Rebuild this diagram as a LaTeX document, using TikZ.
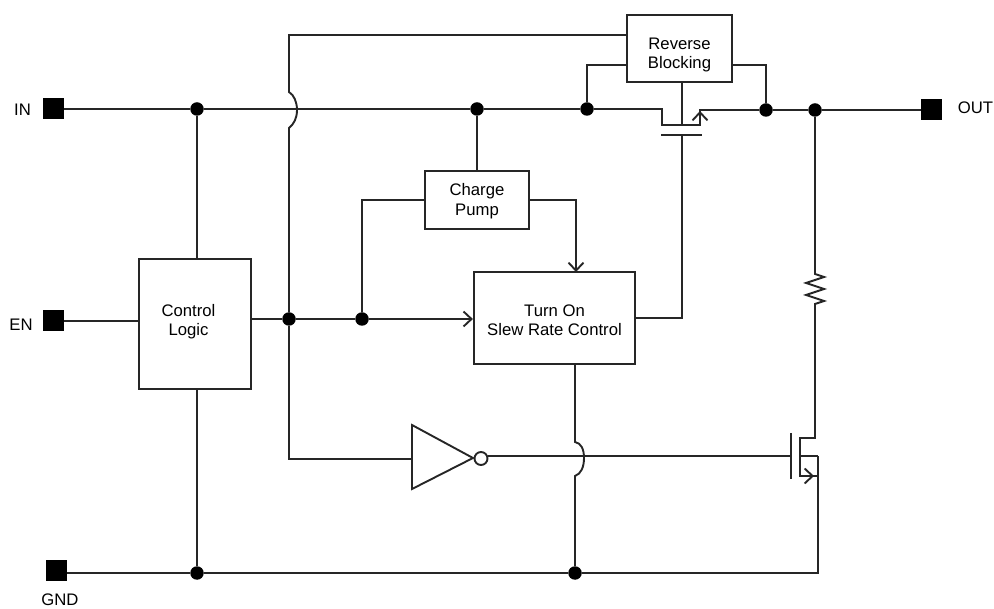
\documentclass[tikz,border=0pt]{standalone}
\usepackage{fontspec}
\setmainfont{Liberation Sans}
\usetikzlibrary{arrows.meta}
\newcommand{\twolines}[3]{\raisebox{#1}[0pt][0pt]{\begin{tabular}{@{}c@{}}#2\\#3\end{tabular}}}
\tikzset{
  x=1pt,y=-1pt,
  wire/.style={line width=1.9pt,draw=black!85,line join=miter},
  block/.style={draw=black!85,line width=2.2pt,fill=white,inner sep=0pt,align=center,font=\fontsize{16.7}{19.5}\selectfont},
  pin/.style={fill=black,inner sep=0pt,minimum width=21pt,minimum height=21pt},
  junction/.style={circle,fill=black,inner sep=0pt,minimum size=13.5pt},
  lbl/.style={inner sep=0pt,font=\fontsize{16.7}{20}\selectfont},
  opentip/.style={-{Straight Barb[length=8pt,width=15pt,line width=1.9pt]}}
}
\renewcommand{\arraystretch}{1}
\begin{document}
\begin{tikzpicture}
\useasboundingbox (0,0) rectangle (994,609);
% pins
\node[pin] (in) at (53.5,109) {};
\node[pin] (en) at (53.5,321) {};
\node[pin] (gnd) at (56,570.5) {};
\node[pin] (out) at (931.5,110) {};
\node[lbl] (inl) at (22.5,110) {IN};
\node[lbl] (enl) at (21,325) {EN};
\node[lbl] (gndl) at (60,600) {GND};
\node[lbl] (outl) at (975.5,107.5) {OUT};
% junctions
\node[junction] (j1) at (197,109) {};
\node[junction] (j2) at (477,109) {};
\node[junction] (j3) at (587,109) {};
\node[junction] (j4) at (766,110) {};
\node[junction] (j5) at (815,110) {};
\node[junction] (j6) at (289,319) {};
\node[junction] (j7) at (362,319) {};
\node[junction] (j8) at (197,573) {};
\node[junction] (j9) at (575,573) {};
% blocks
\node[block,minimum width=105pt,minimum height=67pt] (rb) at (679.5,48.5) {\twolines{-11pt}{Reverse}{Blocking}};
\node[block,minimum width=104pt,minimum height=58pt] (cp) at (477,200) {\twolines{-5.7pt}{Charge}{Pump}};
\node[block,minimum width=161pt,minimum height=92pt] (sr) at (554.5,318) {\twolines{-8.2pt}{Turn On}{Slew Rate Control}};
\node[block,minimum width=112pt,minimum height=130pt,text width=100pt] (cl) at (195,324) {\hspace*{-13pt}\twolines{-2.2pt}{Control}{Logic}};
% helper points
\coordinate (p1a) at (662,109);
\coordinate (p1b) at (662,125);
\coordinate (p1c) at (700,125);
\coordinate (p1d) at (700,110);
\coordinate (g1) at (682,135);
\coordinate (g1l) at (661,135);
\coordinate (g1r) at (702,135);
\coordinate (g1c) at (682,125);
\coordinate (rt) at (815,272);
\coordinate (rb2) at (815,308);
\coordinate (d2) at (815,438);
\coordinate (d2b) at (800,438);
\coordinate (s2b) at (800,476);
\coordinate (s2e) at (818,476);
\coordinate (s2t) at (814,476);
\coordinate (b2t) at (800,456);
\coordinate (b2r) at (818,456);
\coordinate (g2) at (791,456);
\coordinate (g2t) at (791,433);
\coordinate (g2b) at (791,479);
\coordinate (gb) at (818,573);
% inverter
\coordinate (ia) at (412,425);
\coordinate (ib) at (412,489);
\coordinate (ic) at (473,458);
\draw[wire] (ia) -- (ic) -- (ib) -- cycle;
\node[circle,draw=black!85,line width=1.9pt,fill=white,minimum size=13pt,inner sep=0pt] (bub) at (481,458.5) {};
\coordinate (iin) at (412,459);
% wires
\draw[wire] (in) -- (j1) -- (j2) -- (j3) -- (p1a) -- (p1b) -- (p1c) -- (p1d) -- (j4) -- (j5) -- (out);
\draw[wire,opentip] (p1c) -- (700,111);
\draw[wire] (j1) -- (cl.north -| j1);
\draw[wire] (cl.south -| j8) -- (j8);
\draw[wire] (gnd.east |- j8) -- (j8) -- (j9) -- (gb) -- (b2r);
\draw[wire] (b2r) -- (b2t) -- (s2b) -- (s2e);
\draw[wire,opentip] (s2b) -- (s2t);
\draw[wire] (j5) -- (rt) -- ++(0,2) -- ++(9,3) -- ++(-18,6) -- ++(18,6) -- ++(-18,6) -- ++(18,6) -- ++(-9,3) -- (rb2) -- (d2) -- (d2b) -- (s2b);
\draw[wire] (g2t) -- (g2b);
\draw[wire] (bub.east |- g2) -- (g2);
\draw[wire] (g1l) -- (g1r);
\draw[wire] (rb.south -| g1c) -- (g1c);
\draw[wire] (g1) -- (g1 |- sr.east) -- (sr.east);
\draw[wire] (j2) -- (cp.north -| j2);
\draw[wire] (en) -- (en -| cl.west);
\draw[wire] (cl.east |- j6) -- (j6) -- (j7);
\draw[wire,opentip] (j7) -- (sr.west |- j7);
\draw[wire] (j7) -- (j7 |- cp.west) -- (cp.west);
\draw[wire,opentip] (cp.east) -- (576,200) -- (576,272);
\draw[wire] (j3) -- (587,65) -- (rb.west |- 587,65);
\draw[wire] (rb.east |- 766,65) -- (766,65) -- (j4);
% upper crossing wire with bump over the IN line
\draw[wire] (rb.west |- 289,35) -- (289,35) -- (289,92) .. controls (294,95) and (297,102) .. (297,110) .. controls (297,118) and (294,124) .. (289,128) -- (j6);
\draw[wire] (j6) -- (289,459) -- (iin);
% slew rate output with bump over the inverter output line
\draw[wire] (sr.south -| j9) -- (575,442) .. controls (581,443) and (584,449) .. (584,458) .. controls (584,467) and (581,474) .. (575,476) -- (j9);
\end{tikzpicture}
\end{document}
